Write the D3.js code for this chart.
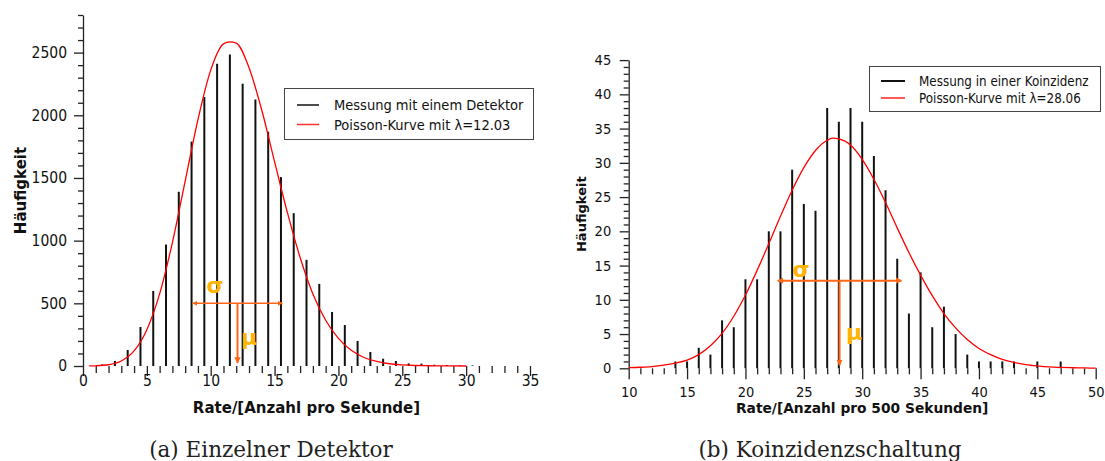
<!DOCTYPE html>
<html>
<head>
<meta charset="utf-8">
<script src="https://cdn.jsdelivr.net/npm/d3@7/dist/d3.min.js"></script>
<style>
  body { margin: 0; background: #fff; }
  svg text { font-family: "DejaVu Sans", sans-serif; fill: #111; }
  .cond { font-stretch: condensed; }
  .caption { font-family: "DejaVu Serif", serif; fill: #222; }
</style>
</head>
<body>
<svg id="chart" width="1105" height="461"></svg>
<script>
// (a) single detector: counts per rate bin, stems sit in the middle of each bin
const detRate  = [0.5, 1.5, 2.5, 3.5, 4.5, 5.5, 6.5, 7.5, 8.5, 9.5, 10.5, 11.5, 12.5, 13.5, 14.5, 15.5,
                  16.5, 17.5, 18.5, 19.5, 20.5, 21.5, 22.5, 23.5, 24.5, 25.5, 26.5, 27.5, 28.5, 29.5, 30.5];
const detCount = [2, 13, 40, 128, 311, 599, 969, 1390, 1790, 2146, 2412, 2484, 2252, 2125, 1869, 1507,
                  1219, 847, 655, 431, 327, 200, 112, 58, 40, 21, 19, 10, 8, 5, 5];
const detFitX = [0.5, 1, 2, 3, 4, 5, 6, 7, 8, 9, 10, 11, 11.5, 12, 13, 14, 15, 16, 17, 18, 19, 20,
                 21, 22, 23, 24, 25, 26, 27, 28, 29, 30];
const detFitY = [0.4, 1.7, 10, 40, 120, 290, 575, 985, 1475, 1965, 2360, 2570, 2585, 2575, 2380, 2040,
                 1630, 1225, 865, 575, 365, 220, 125, 68, 36, 18, 9, 4, 2, 1, 0.4, 0.2];

// (b) coincidence circuit: counts per 500 s
const coinRate  = [10, 11, 12, 13, 14, 15, 16, 17, 18, 19, 20, 21, 22, 23, 24, 25, 26, 27, 28, 29, 30,
                   31, 32, 33, 34, 35, 36, 37, 38, 39, 40, 41, 42, 43, 44, 45, 46, 47, 48, 49, 50];
const coinCount = [0, 0, 0, 0, 1, 1, 3, 2, 7, 6, 13, 13, 20, 20, 29, 24, 23, 38, 36, 38, 36,
                   31, 26, 16, 8, 14, 6, 9, 5, 2, 1, 1, 1, 1, 0, 1, 0, 1, 0, 0, 0];
// poisson curve (lambda = 28.06)
const coinFitX = [10, 11, 12, 13, 14, 15, 16, 17, 18, 19, 20, 21, 22, 23, 24, 25, 26, 27, 27.5, 28, 29, 30,
                  31, 32, 33, 34, 35, 36, 37, 38, 39, 40, 41, 42, 43, 44, 45, 46, 47, 48, 49, 50];
const coinFitY = [0.1, 0.15, 0.25, 0.45, 0.75, 1.2, 2.0, 3.3, 5.1, 7.6, 10.7, 14.3, 18.2, 22.2, 26.0, 29.3,
                  31.8, 33.3, 33.6, 33.5, 32.6, 30.5, 27.6, 24.2, 20.5, 16.9, 13.6, 10.6, 8.0, 5.9, 4.2,
                  2.9, 2.0, 1.3, 0.85, 0.55, 0.35, 0.2, 0.13, 0.08, 0.05, 0.03];

const svg = d3.select("#chart");
const ORANGE = "#ff6716", AMBER = "#ffb400";

const defs = svg.append("defs");
defs.append("marker")
    .attr("id", "tip")
    .attr("viewBox", "0 0 10 10")
    .attr("refX", 9).attr("refY", 5)
    .attr("markerWidth", 3.2).attr("markerHeight", 3.2)
    .attr("orient", "auto-start-reverse")
  .append("path")
    .attr("d", "M0,0L10,5L0,10z")
    .attr("fill", ORANGE);

function panel(o) {
  const g = svg.append("g");
  const x = d3.scaleLinear().domain(o.xDomain).range(o.xRange);
  const y = d3.scaleLinear().domain(o.yDomain).range(o.yRange);

  // y axis: minor ticks first, then labelled majors with the axis line
  g.append("g").attr("transform", `translate(${o.xRange[0]},0)`)
    .call(d3.axisLeft(y).tickValues(o.yMinor).tickSize(5).tickSizeOuter(0).tickFormat(""))
    .call(a => a.select(".domain").remove())
    .selectAll("line").attr("stroke", "#222").attr("stroke-width", 1.3);
  const ya = g.append("g").attr("transform", `translate(${o.xRange[0]},0)`)
    .call(d3.axisLeft(y).tickValues(o.yMajor).tickSize(9).tickSizeOuter(0)
      .tickPadding(o.yPad).tickFormat(d3.format("d")));
  ya.selectAll("text").attr("class", "cond").style("font-size", o.tickFont + "px").attr("fill", "#111");
  ya.selectAll("line, path").attr("stroke", "#222").attr("stroke-width", 1.3);

  // x axis: only ticks hanging below the zero line, no base line
  const base = y(0);
  g.append("g").attr("transform", `translate(0,${base})`)
    .call(d3.axisBottom(x).tickValues(o.xMinor).tickSize(o.minorLen).tickFormat(""))
    .call(a => a.select(".domain").remove())
    .selectAll("line").attr("stroke", "#222").attr("stroke-width", 1.3);
  const xa = g.append("g").attr("transform", `translate(0,${base})`)
    .call(d3.axisBottom(x).tickValues(o.xMajor).tickSize(o.majorLen).tickFormat(d3.format("d")));
  xa.select(".domain").remove();
  xa.selectAll("line").attr("stroke", "#222").attr("stroke-width", 1.3);
  xa.selectAll("text").attr("class", "cond").attr("dy", null).attr("y", o.xLabelY)
    .style("font-size", o.tickFont + "px").attr("fill", "#111");

  // axis titles
  g.append("text")
    .attr("x", (o.xRange[0] + o.xRange[1]) / 2).attr("y", o.xTitleY)
    .attr("text-anchor", "middle").attr("font-weight", "bold")
    .style("font-size", o.titleFont + "px")
    .text(o.xTitle);
  g.append("text")
    .attr("transform", `translate(${o.yTitleX},${(o.yRange[0] + o.yRange[1]) / 2}) rotate(-90)`)
    .attr("text-anchor", "middle").attr("font-weight", "bold")
    .style("font-size", o.yTitleFont + "px")
    .text("Häufigkeit");

  // stems
  g.append("g").selectAll("line")
    .data(o.rate.map((r, i) => [r, o.count[i]]).filter(d => d[1] > 0))
    .join("line")
      .attr("x1", d => x(d[0])).attr("x2", d => x(d[0]))
      .attr("y1", base).attr("y2", d => y(d[1]))
      .attr("stroke", "#111").attr("stroke-width", 2);

  // poisson curve
  const line = d3.line().x(d => x(d[0])).y(d => y(d[1])).curve(d3.curveMonotoneX);
  g.append("path")
    .datum(o.fitX.map((v, i) => [v, o.fitY[i]]))
    .attr("d", line)
    .attr("fill", "none").attr("stroke", "#f00").attr("stroke-width", 1.3);

  // mean and width markers
  g.append("line")
    .attr("x1", x(o.mu - o.sigma)).attr("x2", x(o.mu + o.sigma))
    .attr("y1", y(o.level)).attr("y2", y(o.level))
    .attr("stroke", ORANGE).attr("stroke-width", o.sigmaW)
    .attr("marker-start", "url(#tip)").attr("marker-end", "url(#tip)");
  g.append("line")
    .attr("x1", x(o.mu)).attr("x2", x(o.mu))
    .attr("y1", y(o.level)).attr("y2", base - 3)
    .attr("stroke", ORANGE).attr("stroke-width", 2)
    .attr("marker-end", "url(#tip)");
  g.append("text")
    .attr("x", o.sigmaLabel[0]).attr("y", o.sigmaLabel[1])
    .attr("text-anchor", "middle").attr("font-weight", "bold")
    .style("font-size", "22px").style("fill", AMBER)
    .text("σ");
  g.append("text")
    .attr("x", o.muLabel[0]).attr("y", o.muLabel[1])
    .attr("font-weight", "bold")
    .style("font-size", "22px").style("fill", AMBER)
    .text("μ");

  // legend
  const L = o.legend;
  const lg = g.append("g");
  lg.append("rect")
    .attr("x", L.x).attr("y", L.y).attr("width", L.w).attr("height", L.h)
    .attr("fill", "#fff").attr("stroke", "#444").attr("stroke-width", 1);
  o.legendItems.forEach((item, i) => {
    const ly = L.rowY[i];
    lg.append("line")
      .attr("x1", L.lx[0]).attr("x2", L.lx[1]).attr("y1", ly).attr("y2", ly)
      .attr("stroke", item.color).attr("stroke-width", item.width);
    lg.append("text")
      .attr("class", "cond")
      .attr("x", L.tx).attr("y", ly + L.font * 0.37)
      .style("font-size", L.font + "px")
      .text(item.label);
  });
}

panel({
  xDomain: [0, 35], xRange: [83, 530],
  yDomain: [0, 2800], yRange: [366, 15],
  xMajor: [0, 5, 10, 15, 20, 25, 30, 35],
  xMinor: d3.range(1, 35).filter(v => v % 5),
  yMajor: [0, 500, 1000, 1500, 2000, 2500],
  yMinor: d3.range(100, 2801, 100).filter(v => v % 500),
  minorLen: 7, majorLen: 10, xLabelY: 19.5, yPad: 7,
  tickFont: 15.5, titleFont: 15, yTitleFont: 15,
  xTitle: "Rate/[Anzahl pro Sekunde]", xTitleY: 413, yTitleX: 26,
  rate: detRate, count: detCount, fitX: detFitX, fitY: detFitY,
  mu: 12.1, sigma: 3.5, level: 500, sigmaW: 1.6,
  sigmaLabel: [215, 293], muLabel: [241, 345],
  legend: { x: 284.5, y: 88.5, w: 249, h: 51, lx: [297, 319], tx: 334, rowY: [105, 124.5], font: 14.5 },
  legendItems: [
    { label: "Messung mit einem Detektor", color: "#111", width: 1.5 },
    { label: "Poisson-Kurve mit λ=12.03", color: "#f33", width: 1.5 }
  ]
});

panel({
  xDomain: [10, 50], xRange: [628.7, 1095.7],
  yDomain: [0, 45], yRange: [368.3, 60.1],
  xMajor: [10, 15, 20, 25, 30, 35, 40, 45, 50],
  xMinor: d3.range(11, 50).filter(v => v % 5),
  yMajor: [0, 5, 10, 15, 20, 25, 30, 35, 40, 45],
  yMinor: d3.range(1, 45).filter(v => v % 5),
  minorLen: 6, majorLen: 11, xLabelY: 28.5, yPad: 8.5,
  tickFont: 14.5, titleFont: 13.8, yTitleFont: 13,
  xTitle: "Rate/[Anzahl pro 500 Sekunden]", xTitleY: 413, yTitleX: 586,
  rate: coinRate, count: coinCount, fitX: coinFitX, fitY: coinFitY,
  mu: 28.06, sigma: 5.3, level: 12.8, sigmaW: 2,
  sigmaLabel: [801, 277], muLabel: [846, 340],
  legend: { x: 869.5, y: 66.5, w: 231, h: 45, lx: [881, 905], tx: 919, rowY: [81, 98], font: 13.3 },
  legendItems: [
    { label: "Messung in einer Koinzidenz", color: "#111", width: 2 },
    { label: "Poisson-Kurve mit λ=28.06", color: "#f00", width: 1.3 }
  ]
});

// sub-figure captions
svg.append("text").attr("class", "caption")
  .attr("x", 271).attr("y", 457).attr("text-anchor", "middle")
  .style("font-size", "21.5px").text("(a) Einzelner Detektor");
svg.append("text").attr("class", "caption")
  .attr("x", 830).attr("y", 457).attr("text-anchor", "middle")
  .style("font-size", "21.5px").text("(b) Koinzidenzschaltung");
</script>
</body>
</html>
